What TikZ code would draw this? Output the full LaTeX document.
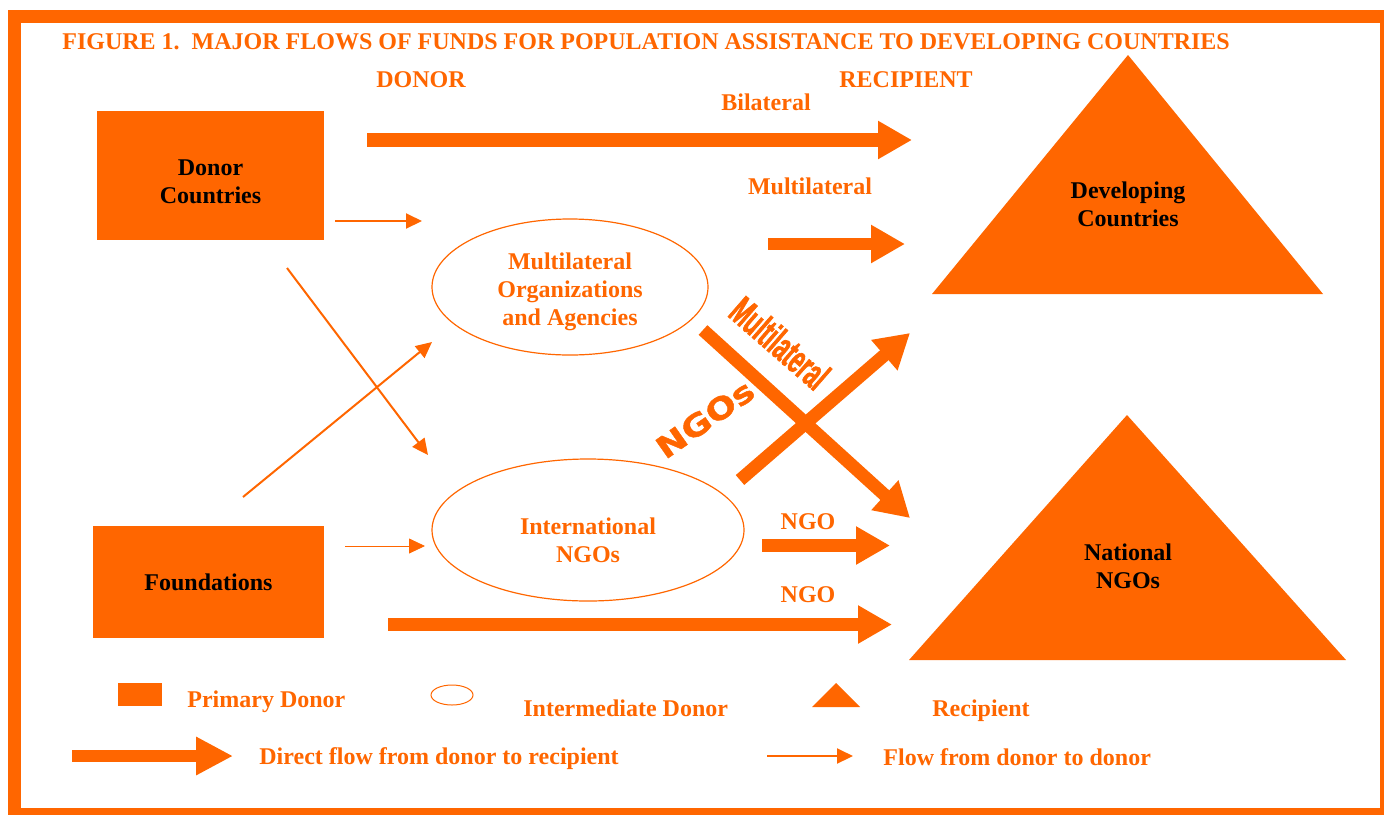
\documentclass[tikz,border=0pt]{standalone}
\usepackage{fontspec}
\setmainfont{Liberation Serif}
\newfontfamily\multfont[FakeStretch=0.55,FakeBold=1.5]{Liberation Sans}
\newfontfamily\ngofont[FakeStretch=1.2,FakeBold=1.5]{DejaVu Sans}
\usetikzlibrary{arrows.meta,shapes.geometric}
\definecolor{org}{HTML}{FF6600}
\begin{document}
\begin{tikzpicture}[x=0.5pt,y=-0.5pt,
  lbl/.style={text=org,font=\bfseries\fontsize{12}{14}\selectfont,align=center,inner sep=0},
  dark/.style={text=black,font=\bfseries\fontsize{12}{14}\selectfont,align=center,inner sep=0},
  bigarrow/.style={draw=org,line width=6.5pt,-{Triangle[length=17pt,width=18pt]}},
  thinarrow/.style={draw=org,line width=1pt,-{Triangle[length=8pt,width=7.5pt]}},
  pbox/.style={fill=org,draw=none,inner sep=0},
  ibox/.style={ellipse,draw=org,line width=0.6pt,inner sep=0},
]
\useasboundingbox (0,0) rectangle (1384,814);
\begin{scope}
\clip (0,0) rectangle (1384,814);
\draw[org,line width=6.5pt] (14.5,16.5) rectangle (1386.5,814.5);
\end{scope}

% title and headers
\node[lbl,anchor=west] (title) at (62,42) {FIGURE 1.\ \ MAJOR FLOWS OF FUNDS FOR POPULATION ASSISTANCE TO DEVELOPING COUNTRIES};
\node[lbl] (donor) at (421,80) {DONOR};
\node[lbl] (recip) at (906,80) {RECIPIENT};

% primary donors
\node[pbox,minimum width=113.5pt,minimum height=64.5pt] (dc) at (210.5,175.5) {};
\node[dark] (dct) at (210.5,182) {Donor\\Countries};
\node[pbox,dark,minimum width=115.5pt,minimum height=56pt] (fd) at (208.5,582) {Foundations};

% intermediate donors
\node[ibox,minimum width=138pt,minimum height=68pt] (mo) at (570,287) {};
\node[lbl] (mot) at (570,292) {Multilateral\\Organizations\\and Agencies};
\node[ibox,minimum width=156pt,minimum height=71pt] (in) at (588,530) {};
\node[lbl] (int) at (588,540.5) {International\\NGOs};

% recipients
\fill[org] (1128,55) -- (1323,294) -- (932,294) -- cycle;
\node[dark] (devc) at (1128,204) {Developing\\Countries};
\fill[org] (1127,415) -- (1346,660) -- (909,660) -- cycle;
\node[dark] (nngo) at (1128,566) {National\\NGOs};

% big direct flows
\coordinate (b1s) at (367,140); \coordinate (b1e) at (912,140);
\draw[bigarrow,line width=7pt] (b1s) -- (b1e);
\node[lbl] (bil) at (766,102) {Bilateral};
\coordinate (b2s) at (768,244); \coordinate (b2e) at (905,244);
\draw[bigarrow,line width=6pt] (b2s) -- (b2e);
\node[lbl] (mul) at (810,186) {Multilateral};
\coordinate (b3s) at (762,545.5); \coordinate (b3e) at (890,545.5);
\draw[bigarrow] (b3s) -- (b3e);
\node[lbl] (ngo1) at (808,522) {NGO};
\coordinate (b4s) at (388,624.5); \coordinate (b4e) at (892,624.5);
\draw[bigarrow] (b4s) -- (b4e);
\node[lbl] (ngo2) at (808,595) {NGO};

% crossing flows
\coordinate (c1s) at (703,330); \coordinate (c1e) at (910,518);
\draw[bigarrow,-{Triangle[length=17pt,width=19pt]}] (c1s) -- (c1e);
\coordinate (c2s) at (740,480); \coordinate (c2e) at (910,333);
\draw[bigarrow,-{Triangle[length=17pt,width=19pt]}] (c2s) -- (c2e);
\node[text=org,font=\multfont\bfseries\fontsize{20}{20}\selectfont,rotate=-41,inner sep=0] (mlab) at (780,343) {Multilateral};
\node[text=org,font=\ngofont\bfseries\fontsize{15}{15}\selectfont,rotate=35,inner sep=0] (nlab) at (705,419) {NGOs};

% donor to donor flows
\coordinate (t1s) at (335,221); \coordinate (t1e) at (422,221);
\draw[thinarrow] (t1s) -- (t1e);
\coordinate (t2s) at (287,268); \coordinate (t2e) at (428,455);
\draw[thinarrow] (t2s) -- (t2e);
\coordinate (t3s) at (243,497); \coordinate (t3e) at (432,342);
\draw[thinarrow] (t3s) -- (t3e);
\coordinate (t4s) at (345,546); \coordinate (t4e) at (425,546);
\draw[thinarrow,line width=0.4pt] (t4s) -- (t4e);

% legend
\node[pbox,minimum width=22pt,minimum height=11.5pt] (lg1) at (140,694.5) {};
\node[lbl,anchor=base west] (lt1) at (187,707) {Primary Donor};
\node[ibox,minimum width=21pt,minimum height=10pt,line width=0.5pt] (lg2) at (452,695) {};
\node[lbl,anchor=base west] (lt2) at (523,716) {Intermediate Donor};
\fill[org] (836,683) -- (860,707) -- (812,707) -- cycle;
\node[lbl,anchor=base west] (lt3) at (932,716) {Recipient};
\coordinate (l4s) at (72,756); \coordinate (l4e) at (233,756);
\draw[bigarrow,line width=6pt,-{Triangle[length=18.5pt,width=18pt]}] (l4s) -- (l4e);
\node[lbl,anchor=base west] (lt4) at (259,764) {Direct flow from donor to recipient};
\coordinate (l5s) at (767,756); \coordinate (l5e) at (853,756);
\draw[thinarrow] (l5s) -- (l5e);
\node[lbl,anchor=base west] (lt5) at (883,765) {Flow from donor to donor};
\end{tikzpicture}
\end{document}
